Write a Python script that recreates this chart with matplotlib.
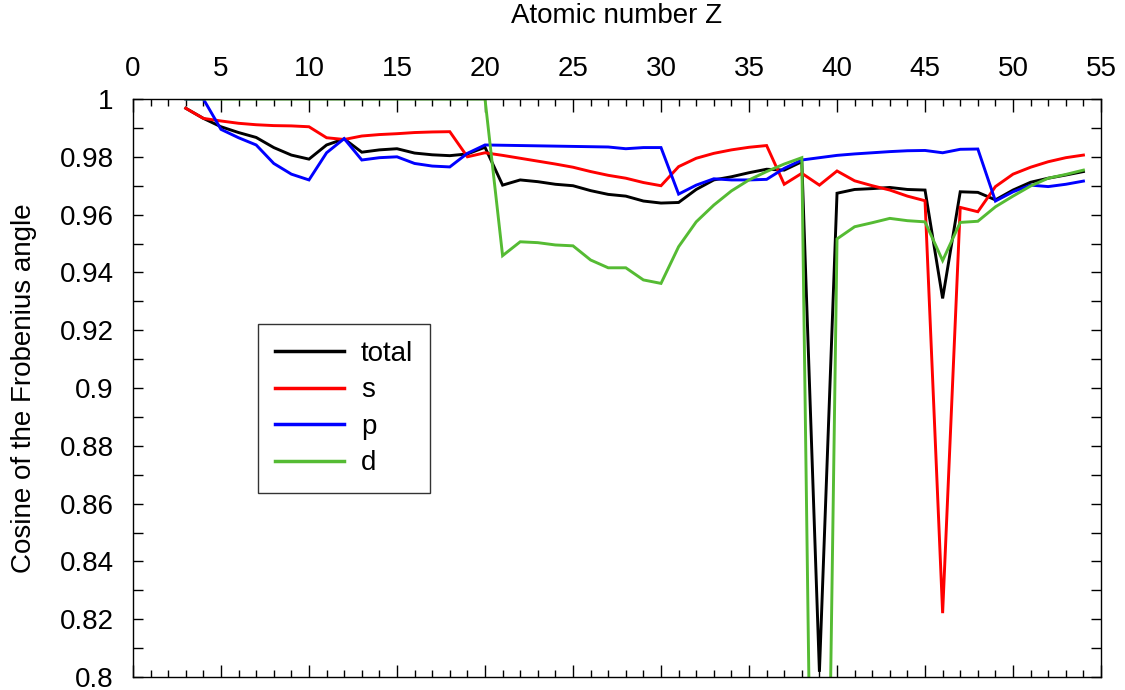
import matplotlib
matplotlib.use("Agg")
import matplotlib.pyplot as plt
from matplotlib.ticker import MultipleLocator
import numpy as np

plt.rcParams['font.family'] = ['Liberation Sans', 'DejaVu Sans']

Z = list(range(3, 55))

total = [0.9968, 0.9933, 0.9904, 0.9884, 0.9867, 0.9832, 0.9806, 0.9792, 0.9841, 0.9862,
         0.9816, 0.9824, 0.9828, 0.9813, 0.9807, 0.9804, 0.9810, 0.9833, 0.9702, 0.9720,
         0.9714, 0.9705, 0.9700, 0.9683, 0.9670, 0.9664, 0.9647, 0.9640, 0.9642, 0.9687,
         0.9720, 0.9731, 0.9745, 0.9757, 0.9754, 0.9783, 0.8018, 0.9674, 0.9687, 0.9690,
         0.9694, 0.9687, 0.9685, 0.9310, 0.9679, 0.9677, 0.9651, 0.9685, 0.9712, 0.9726,
         0.9737, 0.9749]

s = [0.9968, 0.9933, 0.9924, 0.9916, 0.9911, 0.9908, 0.9907, 0.9904, 0.9866, 0.9860,
     0.9872, 0.9877, 0.9880, 0.9884, 0.9886, 0.9887, 0.9800, 0.9814, 0.9805, 0.9795,
     0.9785, 0.9775, 0.9764, 0.9749, 0.9736, 0.9726, 0.9711, 0.9700, 0.9766, 0.9795,
     0.9812, 0.9824, 0.9833, 0.9839, 0.9705, 0.9743, 0.9702, 0.9751, 0.9717, 0.9700,
     0.9685, 0.9664, 0.9648, 0.8221, 0.9625, 0.9610, 0.9697, 0.9740, 0.9764, 0.9783,
     0.9797, 0.9806]

p = [1.0000, 1.0000, 0.9895, 0.9866, 0.9841, 0.9777, 0.9740, 0.9720, 0.9814, 0.9863,
     0.9789, 0.9797, 0.9800, 0.9777, 0.9768, 0.9765, 0.9812, 0.9841, 0.9840, 0.9839,
     0.9838, 0.9837, 0.9836, 0.9835, 0.9834, 0.9828, 0.9832, 0.9832, 0.9671, 0.9702,
     0.9724, 0.9720, 0.9720, 0.9722, 0.9760, 0.9789, 0.9797, 0.9805, 0.9810, 0.9814,
     0.9818, 0.9821, 0.9822, 0.9814, 0.9826, 0.9827, 0.9647, 0.9679, 0.9702, 0.9697,
     0.9705, 0.9716]

d = [1.0, 1.0, 1.0, 1.0, 1.0, 1.0, 1.0, 1.0, 1.0, 1.0,
     1.0, 1.0, 1.0, 1.0, 1.0, 1.0, 1.0, 1.0, 0.9458, 0.9506,
     0.9503, 0.9495, 0.9492, 0.9443, 0.9416, 0.9416, 0.9374, 0.9362, 0.9489, 0.9575,
     0.9633, 0.9682, 0.9720, 0.9749, 0.9775, 0.9797, 0.5300, 0.9516, 0.9558, 0.9572,
     0.9587, 0.9579, 0.9575, 0.9441, 0.9573, 0.9577, 0.9627, 0.9664, 0.9699, 0.9726,
     0.9739, 0.9754]

series = [("total", total, "black"), ("s", s, "#ff0000"),
          ("p", p, "#0000ff"), ("d", d, "#55bb33")]

FS = 20

fig = plt.figure(figsize=(11.25, 6.9), dpi=100)
ax = fig.add_axes([0.1182, 0.0188, 0.9787 - 0.1182, 0.8565 - 0.0188])

for name, vals, col in series:
    ax.plot(Z, vals, color=col, lw=2.1, label=name, solid_joinstyle='miter')

ax.set_xlim(0, 55)
ax.set_ylim(0.8, 1.0)
ax.xaxis.set_major_locator(MultipleLocator(5))
ax.xaxis.set_minor_locator(MultipleLocator(1))
ax.yaxis.set_major_locator(MultipleLocator(0.02))
ax.yaxis.set_minor_locator(MultipleLocator(0.01))
ax.xaxis.tick_top()
ax.xaxis.set_label_position('top')
ax.tick_params(axis='x', which='both', top=True, bottom=True, direction='in',
               labeltop=True, labelbottom=False, labelsize=FS, pad=12)
ax.tick_params(axis='x', which='major', length=9, width=1)
ax.tick_params(axis='x', which='minor', length=5, width=1)
ax.tick_params(axis='y', which='both', left=True, right=True, direction='in',
               labelsize=FS, length=7, width=1, pad=14)
ax.yaxis.set_major_formatter(plt.FuncFormatter(lambda v, pos: ('%g' % round(v, 2))))
ax.set_xlabel("Atomic number Z", fontsize=FS, labelpad=24)
ax.set_ylabel("Cosine of the Frobenius angle", fontsize=FS, labelpad=16)
for sp in ax.spines.values():
    sp.set_linewidth(1.0)

leg = ax.legend(loc='upper left', bbox_to_anchor=((258 - 133) / 968, 1 - (324 - 99) / 578),
                fontsize=FS, frameon=True, fancybox=False, edgecolor='black',
                handlelength=2.5, handletextpad=0.6, borderpad=0.6, labelspacing=0.38,
                borderaxespad=0)
leg.get_frame().set_linewidth(1.0)
for line in leg.get_lines():
    line.set_linewidth(2.5)

fig.savefig("out.png", dpi=100)
